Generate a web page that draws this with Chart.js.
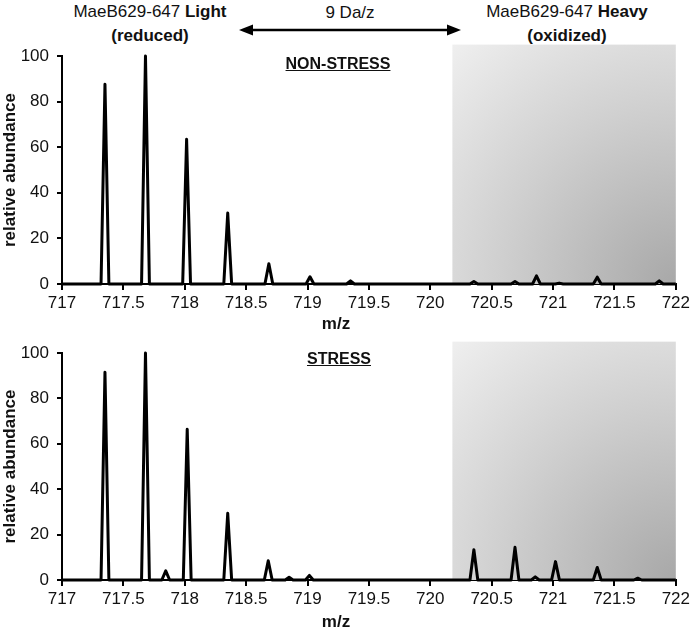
<!DOCTYPE html>
<html>

<head>
    <title>MaeB629-647 Light / Heavy</title>
    <script src="https://cdn.jsdelivr.net/npm/chart.js"></script>
    <style>
        body {
            margin: 0;
            width: 693px;
            height: 627px;
            position: relative;
            overflow: hidden;
            background: #fff;
            font-family: "Liberation Sans", Arial, sans-serif;
            color: #111;
        }

        canvas {
            position: absolute;
            left: 0;
        }

        .hdr {
            position: absolute;
            text-align: center;
            font-size: 17px;
            line-height: 24px;
        }

        .panel {
            position: absolute;
            width: 200px;
            text-align: center;
            font-weight: bold;
            font-size: 16px;
            line-height: 20px;
            text-decoration: underline;
        }

        .mz {
            position: absolute;
            width: 100px;
            text-align: center;
            font-weight: bold;
            font-size: 17px;
            line-height: 20px;
        }
    </style>
</head>

<body>
    <div class="hdr" style="left:50px;top:0;width:200px">MaeB629-647 <b>Light</b><br><b>(reduced)</b></div>
    <div class="hdr" style="left:300px;top:1px;width:100px">9 Da/z</div>
    <div class="hdr" style="left:467px;top:0;width:200px">MaeB629-647 <b>Heavy</b><br><b>(oxidized)</b></div>
    <svg style="position:absolute;left:0;top:0" width="693" height="45">
        <line x1="250" y1="30" x2="450" y2="30" stroke="#000" stroke-width="2.5" />
        <polygon points="239,30 253,24.5 253,35.5" fill="#000" />
        <polygon points="461,30 447,24.5 447,35.5" fill="#000" />
    </svg>

    <canvas id="nonStress" width="693" height="330" style="top:0"></canvas>
    <canvas id="stress" width="693" height="297" style="top:330px"></canvas>

    <div class="panel" style="left:238px;top:54px">NON-STRESS</div>
    <div class="panel" style="left:239px;top:349px">STRESS</div>
    <div class="mz" style="left:286px;top:314px">m/z</div>
    <div class="mz" style="left:286px;top:612px">m/z</div>

    <script>
        // peak centres (m/z) and heights (relative abundance)
        const nonStressMz = [717.35, 717.68, 718.015, 718.35, 718.685, 719.02, 719.35,
            720.355, 720.69, 720.865, 721.05, 721.36, 721.865];
        const nonStressAbundance = [87.6, 100, 63.5, 31.1, 8.9, 3.2, 1.4,
            1.1, 1.1, 3.6, 0.4, 3.0, 1.4];

        const stressMz = [717.35, 717.68, 717.845, 718.02, 718.35, 718.68, 718.85, 719.015,
            720.355, 720.69, 720.855, 721.02, 721.36, 721.69];
        const stressAbundance = [91.5, 100, 4.0, 66.4, 29.4, 8.5, 1.2, 2.0,
            13.3, 14.4, 1.4, 8.1, 5.5, 0.8];

        const mzMin = 717, mzMax = 722;
        const heavyStart = 720.18; // start of the shaded "heavy" window
        const peakHalfWidth = 0.032;

        // turn peak lists into a stick-like profile trace along the baseline
        function profile(mz, ab) {
            const pts = [{ x: mzMin, y: 0 }];
            mz.forEach((c, i) => {
                pts.push({ x: c - peakHalfWidth, y: 0 });
                pts.push({ x: c, y: ab[i] });
                pts.push({ x: c + peakHalfWidth, y: 0 });
            });
            pts.push({ x: mzMax, y: 0 });
            return pts;
        }

        // grey box behind the heavy isotope region
        const heavyBox = {
            id: 'heavyBox',
            beforeDatasetsDraw(chart) {
                const { ctx, chartArea, scales } = chart;
                const x0 = scales.x.getPixelForValue(heavyStart);
                const x1 = chartArea.right;
                const y0 = scales.y.getPixelForValue(105);
                const y1 = chartArea.bottom;
                const g = ctx.createRadialGradient(x1, y1, 0, x1, y1, Math.hypot(x1 - x0, y1 - y0));
                g.addColorStop(0, '#a8a8a8');
                g.addColorStop(0.55, '#d0d0d0');
                g.addColorStop(1, '#efefef');
                ctx.save();
                ctx.fillStyle = g;
                ctx.fillRect(x0, y0, x1 - x0, y1 - y0);
                ctx.restore();
            }
        };

        const font = { family: '"Liberation Sans", Arial, sans-serif', size: 17 };

        function makeChart(id, mz, ab, padTop, xAxisHeight) {
            const ctx = document.getElementById(id).getContext('2d');
            return new Chart(ctx, {
                type: 'line',
                data: {
                    datasets: [{
                        data: profile(mz, ab),
                        borderColor: '#000',
                        borderWidth: 3,
                        borderJoinStyle: 'round',
                        pointRadius: 0,
                        tension: 0,
                        fill: false,
                        clip: false
                    }]
                },
                options: {
                    responsive: false,
                    animation: false,
                    layout: { padding: { left: 0, right: 14, top: padTop, bottom: 0 } },
                    plugins: {
                        legend: { display: false },
                        tooltip: { enabled: false }
                    },
                    scales: {
                        x: {
                            type: 'linear',
                            min: mzMin,
                            max: mzMax,
                            afterFit: s => { s.height = xAxisHeight; },
                            border: { display: true, color: '#000', width: 2 },
                            grid: { drawOnChartArea: false, drawTicks: true, tickLength: 6, color: '#000', lineWidth: 2 },
                            ticks: {
                                stepSize: 0.5, autoSkip: false, maxRotation: 0, padding: 3,
                                color: '#111', font: font, callback: v => String(v)
                            }
                        },
                        y: {
                            min: 0,
                            max: 100,
                            afterFit: s => { s.width = 62; },
                            border: { display: true, color: '#000', width: 2 },
                            grid: { drawOnChartArea: false, drawTicks: true, tickLength: 5, color: '#000', lineWidth: 2 },
                            ticks: { stepSize: 20, padding: 8, color: '#111', font: font, callback: v => String(v) },
                            title: {
                                display: true,
                                text: 'relative abundance',
                                color: '#111',
                                padding: { top: 0, bottom: 0 },
                                font: { family: font.family, size: 17, weight: 'bold' }
                            }
                        }
                    }
                },
                plugins: [heavyBox]
            });
        }

        makeChart('nonStress', nonStressMz, nonStressAbundance, 56, 46);
        makeChart('stress', stressMz, stressAbundance, 23, 47);
    </script>
</body>

</html>
